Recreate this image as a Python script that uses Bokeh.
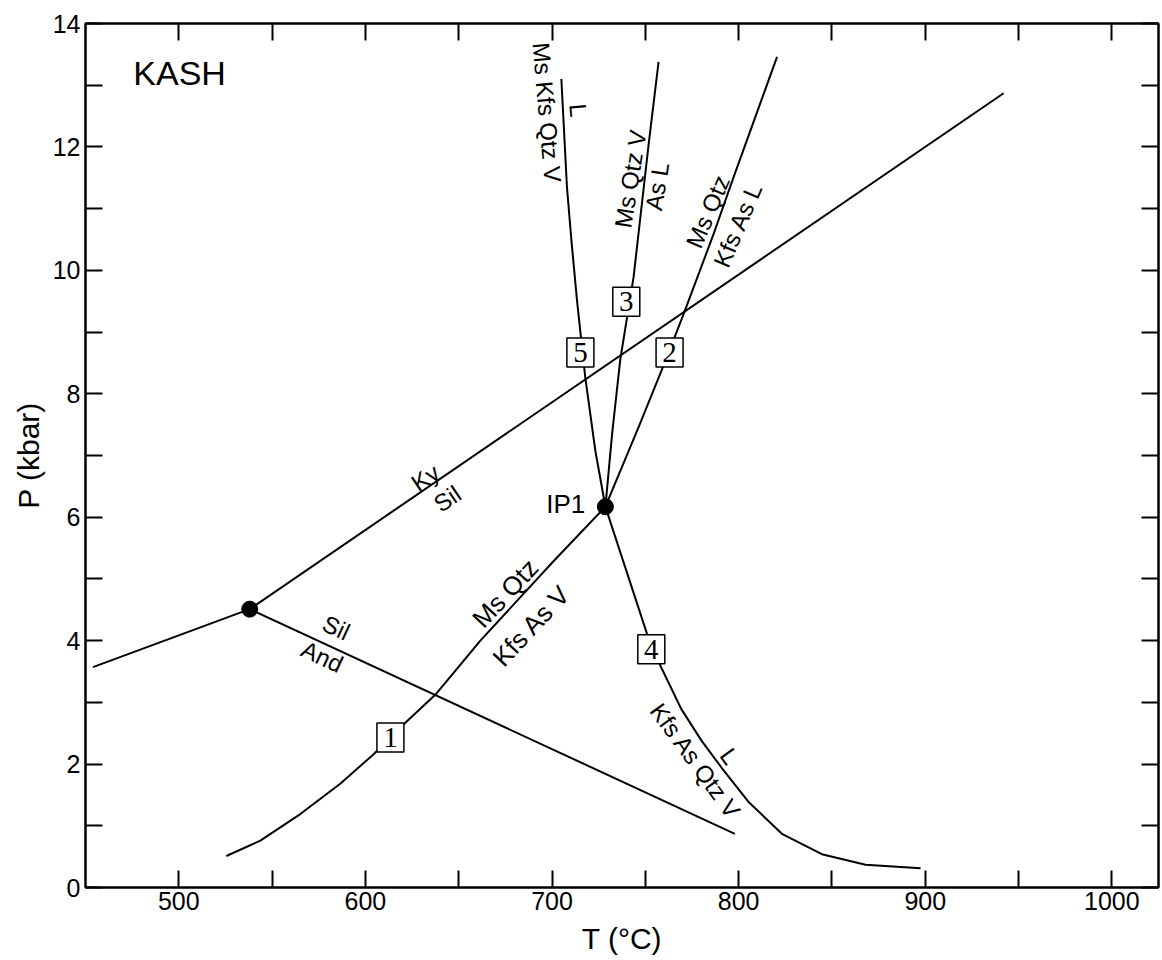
from bokeh.plotting import figure
from bokeh.models import Range1d, FixedTicker, LinearAxis, ColumnDataSource
from bokeh.core.properties import value
from bokeh.embed import file_html
from bokeh.resources import INLINE

# ---------------- data (T in degC, P in kbar) ----------------
x_major = [500, 600, 700, 800, 900, 1000]
x_minor = [550, 650, 750, 850, 950]
y_major = [0, 2, 4, 6, 8, 10, 12, 14]
y_minor = [1, 3, 5, 7, 9, 11, 13]

# invariant points
tp_T = [538.0]          # Al2SiO5 triple point
tp_P = [4.51]
ip1_T = [728.6]
ip1_P = [6.17]

# Al2SiO5 boundaries
ky_sil_T = [538.0, 942.0]
ky_sil_P = [4.51, 12.87]
and_ky_T = [454.0, 538.0]
and_ky_P = [3.57, 4.51]
sil_and_T = [538.0, 798.0]
sil_and_P = [4.51, 0.87]

# reaction [1]  Ms Qtz = Kfs As V
r1_T = [525.5, 543.7, 565.1, 586.5, 604.4, 621.4, 638.0, 661.6, 700.9, 728.6]
r1_P = [0.51, 0.76, 1.19, 1.68, 2.16, 2.67, 3.14, 4.00, 5.29, 6.17]
# reaction [2]  Ms Qtz = Kfs As L
r2_T = [728.6, 746.4, 759.8, 770.5, 786.6, 797.3, 820.6]
r2_P = [6.17, 7.46, 8.46, 9.29, 10.59, 11.51, 13.46]
# reaction [3]  Ms Qtz V = As L
r3_T = [728.6, 732.2, 736.6, 743.7, 751.8, 757.1]
r3_P = [6.17, 7.35, 8.56, 9.89, 12.05, 13.38]
# reaction [4]  Kfs As Qtz V = L
r4_T = [728.6, 750.9, 758.6, 769.3, 780.1, 790.9, 805.2, 823.2, 844.6, 868.0, 897.5]
r4_P = [6.17, 4.11, 3.56, 2.89, 2.38, 1.94, 1.39, 0.87, 0.54, 0.37, 0.31]
# reaction [5]  Ms Kfs Qtz V = L
r5_T = [728.6, 723.2, 717.8, 713.4, 710.5, 708.0, 705.0]
r5_P = [6.17, 7.08, 8.27, 9.51, 10.45, 11.35, 13.10]

# numbered reaction boxes
box_num = ["1", "2", "3", "4", "5"]
box_T = [613.4, 763.0, 739.8, 753.2, 715.2]
box_P = [2.43, 8.67, 9.49, 3.86, 8.67]

# reaction labels
lab_text = ["Ky", "Sil", "Sil", "And",
            "Kfs As Qtz V", "L",
            "Ms Kfs Qtz V", "L",
            "Ms Qtz V", "As L",
            "Ms Qtz", "Kfs As L"]
lab_T = [632.1, 643.9, 584.4, 576.9,
         777.0, 795.1,
         697.3, 714.1,
         742.0, 756.3,
         783.5, 799.6]
lab_P = [6.64, 6.30, 4.21, 3.74,
         2.05, 2.13,
         12.56, 12.59,
         11.48, 11.36,
         10.95, 10.74]
lab_angle = [34, 34, -25, -25,
             -54, -54,
             -85, -85,
             81, 81,
             67, 67]

# labels of reaction [1] (slightly larger, wider spaced in the original)
lab1_text = ["Ms  Qtz", "Kfs  As  V"]
lab1_T = [676.2, 691.6]
lab1_P = [4.81, 4.33]
lab1_angle = [47, 47]

FONT = "Liberation Sans"

p = figure(frame_width=1073, frame_height=864,
           x_range=Range1d(450, 1025), y_range=Range1d(0, 14),
           output_backend="svg", toolbar_location=None,
           min_border_left=85, min_border_right=2,
           min_border_top=23, min_border_bottom=70,
           x_axis_label="T (°C)", y_axis_label="P (kbar)")
p.grid.visible = False
p.outline_line_color = "black"
p.outline_line_width = 2
p.background_fill_color = "white"
p.border_fill_color = "white"


def style_axis(ax, major, minor, labels=True):
    ax.ticker = FixedTicker(ticks=major, minor_ticks=minor)
    ax.major_tick_in = 17
    ax.major_tick_out = 0
    ax.minor_tick_in = 17
    ax.minor_tick_out = 0
    ax.axis_line_width = 2
    ax.major_tick_line_width = 2
    ax.minor_tick_line_width = 2
    ax.axis_line_color = "black"
    ax.major_tick_line_color = "black"
    ax.minor_tick_line_color = "black"
    ax.major_label_text_font = FONT
    ax.major_label_text_color = "black"
    if labels:
        ax.major_label_text_font_size = "25px"
    else:
        ax.major_label_text_font_size = "0px"
        ax.major_label_standoff = 0


style_axis(p.xaxis[0], x_major, x_minor)
style_axis(p.yaxis[0], y_major, y_minor)
p.xaxis[0].major_label_standoff = 4
p.yaxis[0].major_label_standoff = 5
for ax in (p.xaxis[0], p.yaxis[0]):
    ax.axis_label_text_font = FONT
    ax.axis_label_text_font_size = "30px"
    ax.axis_label_text_font_style = "normal"
    ax.axis_label_text_color = "black"
p.xaxis[0].axis_label_standoff = 9
p.yaxis[0].axis_label_standoff = 5

top = LinearAxis()
style_axis(top, x_major, x_minor, labels=False)
p.add_layout(top, "above")
right = LinearAxis()
style_axis(right, y_major, y_minor, labels=False)
p.add_layout(right, "right")

# curves
lw = 2
for xs, ys in [(and_ky_T, and_ky_P), (ky_sil_T, ky_sil_P), (sil_and_T, sil_and_P),
               (r1_T, r1_P), (r2_T, r2_P), (r3_T, r3_P), (r4_T, r4_P), (r5_T, r5_P)]:
    p.line(xs, ys, line_color="black", line_width=lw, line_join="round")

# invariant points
p.scatter(tp_T + ip1_T, tp_P + ip1_P, size=16, fill_color="black", line_color="black")

# boxes
bsrc = ColumnDataSource(dict(x=box_T, y=box_P, t=box_num))
p.rect("x", "y", width=27, height=29, width_units="screen", height_units="screen",
       source=bsrc, fill_color="white", line_color="black", line_width=1.5)
p.text("x", "y", text="t", source=bsrc, text_font=value("Liberation Serif"),
       text_font_size="29px", text_align="center", text_baseline="middle",
       text_color="black")

# reaction labels
lsrc = ColumnDataSource(dict(x=lab_T, y=lab_P, t=lab_text, a=lab_angle))
p.text("x", "y", text="t", angle="a", angle_units="deg", source=lsrc,
       text_font=value(FONT), text_font_size="24px", text_align="center",
       text_baseline="middle", text_color="black")
l1src = ColumnDataSource(dict(x=lab1_T, y=lab1_P, t=lab1_text, a=lab1_angle))
p.text("x", "y", text="t", angle="a", angle_units="deg", source=l1src,
       text_font=value(FONT), text_font_size="26px", text_align="center",
       text_baseline="middle", text_color="black")

# other texts
p.text([475.6], [13.20], text=["KASH"], text_font=value(FONT), text_font_size="34px",
       text_align="left", text_baseline="middle", text_color="black")
p.text([717.8], [6.22], text=["IP1"], text_font=value(FONT), text_font_size="26px",
       text_align="right", text_baseline="middle", text_color="black")

open("out.html", "w").write(file_html(p, INLINE))
